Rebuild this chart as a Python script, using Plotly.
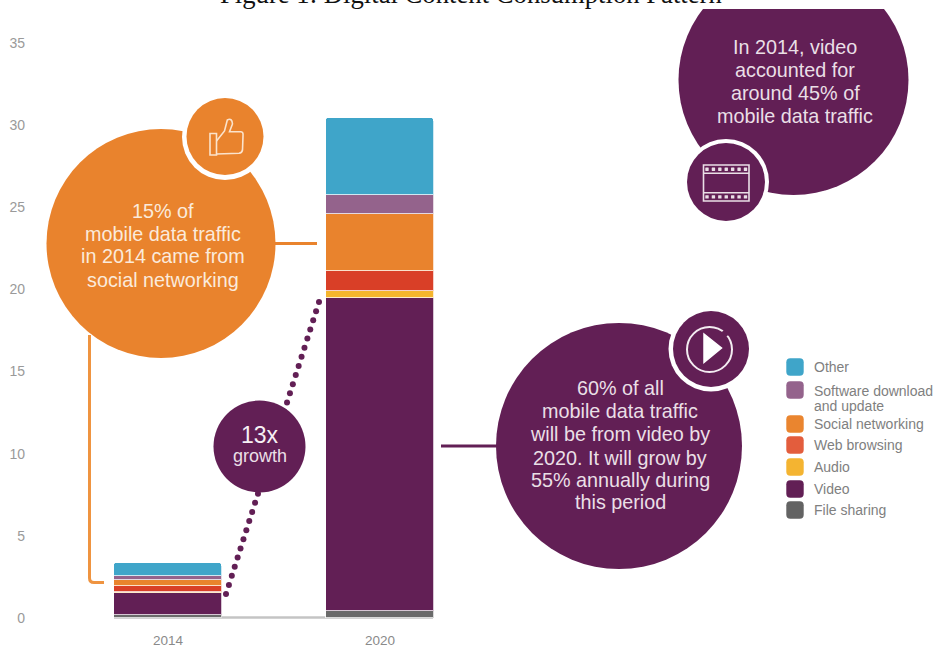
import numpy as np
import plotly.graph_objects as go

# Traffic in exabytes per month, stacked bottom to top
YEARS = ["2014", "2020"]
FILE_SHARING = [0.20, 0.40]
VIDEO = [1.32, 19.08]
AUDIO = [0.08, 0.42]
WEB_BROWSING = [0.35, 1.19]
SOCIAL = [0.36, 3.47]
SOFTWARE = [0.27, 1.19]
OTHER = [0.75, 4.71]

SERIES_NAMES = ["File sharing", "Video", "Audio", "Web browsing",
                "Social networking", "Software download<br>and update", "Other"]
SERIES_VALUES = [FILE_SHARING, VIDEO, AUDIO, WEB_BROWSING, SOCIAL, SOFTWARE, OTHER]
SERIES_COLORS = ["#6a6a6a", "#621f55", "#f5b52d", "#d93f27", "#e9832d", "#94638c", "#3fa5c9"]
LEGEND_COLORS = ["#636363", "#621f55", "#f4b431", "#e35d3d", "#ea852f", "#94638c", "#3fa5c9"]
LEGEND_ROWS = [510, 489, 467, 445, 424, 390, 367]

PURPLE = "#621f55"
ORANGE = "#e9832d"
SOFT_WHITE = "#eadfe6"

# Overlay layer: x2/y2 run in canvas pixels so callouts stay perfectly round
LEFT, RIGHT, TOP, BOTTOM = 30, 935, 9, 622
ZERO_Y, UNIT_Y = 618, 16.43
BAR_2014_X, BAR_STEP = 168, 212

fig = go.Figure()
for name, values, color in zip(SERIES_NAMES, SERIES_VALUES, SERIES_COLORS):
    fig.add_bar(x=YEARS, y=values, name=name.replace("<br>", " "), width=108 / BAR_STEP,
                marker=dict(color=color, line=dict(color="rgba(255,255,255,0.75)", width=1)))

shapes = []
annotations = []


def circle(cx, cy, r, fill="rgba(0,0,0,0)", line=None, width=0):
    shapes.append(dict(type="circle", xref="x2", yref="y2", x0=cx - r, x1=cx + r, y0=cy - r, y1=cy + r,
                       fillcolor=fill, line=dict(color=line or fill, width=width)))


def segment(x0, y0, x1, y1, color, width):
    shapes.append(dict(type="line", xref="x2", yref="y2", x0=x0, y0=y0, x1=x1, y1=y1,
                       line=dict(color=color, width=width)))


def path(d, fill="rgba(0,0,0,0)", line="rgba(0,0,0,0)", width=0):
    shapes.append(dict(type="path", xref="x2", yref="y2", path=d, fillcolor=fill,
                       line=dict(color=line, width=width)))


def label(x, y, text, size, color=SOFT_WHITE, anchor="center"):
    annotations.append(dict(xref="x2", yref="y2", x=x, y=y, text=text, showarrow=False,
                            xanchor=anchor, yanchor="middle",
                            font=dict(family="Liberation Sans", size=size, color=color)))


def text_block(x, rows, lines, size, color=SOFT_WHITE):
    for y, line in zip(rows, lines):
        label(x, y, line, size, color)


def rounded_square(cx, cy, half, r, fill):
    x0, x1, y0, y1 = cx - half, cx + half, cy - half, cy + half
    path(f"M {x0 + r} {y0} L {x1 - r} {y0} Q {x1} {y0} {x1} {y0 + r} L {x1} {y1 - r} Q {x1} {y1} {x1 - r} {y1} "
         f"L {x0 + r} {y1} Q {x0} {y1} {x0} {y1 - r} L {x0} {y0 + r} Q {x0} {y0} {x0 + r} {y0} Z", fill=fill)


# Baseline under both bars
shapes.append(dict(type="line", xref="x2", yref="y2", x0=114, x1=433, y0=617.5, y1=617.5, layer="below",
                   line=dict(color="#c4c4c4", width=2.5)))

# Dotted growth link between the two bars, passing behind the 13x badge
dot_x = np.linspace(226, 319, 33)
dot_y = np.linspace(594, 302, 33)
fig.add_scatter(x=dot_x, y=dot_y, xaxis="x2", yaxis="y2", mode="markers", showlegend=False,
                hoverinfo="skip", marker=dict(color=PURPLE, size=6))

# Leader lines
segment(275, 243.5, 317, 243.5, ORANGE, 3)
segment(441, 446, 498, 446, PURPLE, 3)
path("M 89.5 335 L 89.5 578 Q 89.5 582.5 94 582.5 L 104 582.5", line="#ef9440", width=3)

# Social networking callout with thumbs-up badge
circle(161, 243.5, 114.5, ORANGE)
circle(225, 137, 43, "#ffffff")
circle(225, 136.5, 38.5, ORANGE)
icon = "#fbe3cc"
path("M 210 133.5 L 216.5 133.5 L 216.5 155 L 210 155 Z", line=icon, width=1.6)
path("M 216.5 141 L 224.5 131 L 227.3 120 Q 232 117.5 232.5 124 L 229.5 131.7 L 241 131.7 Q 243.5 132 243 136 "
     "L 242.5 150 Q 242 153 239 153.2 L 216.5 154", line=icon, width=1.6)
text_block(163, [211, 233.5, 256, 280],
           ["15% of", "mobile data traffic", "in 2014 came from", "social networking"], 19.8, "#fbeadb")

# 2014 video callout with film-strip badge; the plot area trims its top edge
circle(793.5, 80, 115, PURPLE)
circle(726, 182, 43, "#ffffff")
circle(726, 182, 39, PURPLE)
path("M 703.5 165 L 749 165 L 749 201 L 703.5 201 Z", line=SOFT_WHITE, width=1.6)
segment(703.5, 173.3, 749, 173.3, SOFT_WHITE, 1.4)
segment(703.5, 192.7, 749, 192.7, SOFT_WHITE, 1.4)
for hole_x in np.linspace(707, 745.5, 7):
    for hole_y in (169.2, 196.9):
        rounded_square(hole_x, hole_y, 1.7, 0.4, SOFT_WHITE)
text_block(795, [47, 70, 93, 116],
           ["In 2014, video", "accounted for", "around 45% of", "mobile data traffic"], 19.8)

# 2020 video callout with play badge
circle(619, 446, 123, PURPLE)
circle(711, 349, 42.5, "#ffffff")
circle(711, 349, 38, PURPLE)
circle(709.5, 349.5, 22.5, line="#f3ecf1", width=2)
segment(723, 331, 727, 336, PURPLE, 4)
path("M 704 334 L 721.5 348 L 704 362.5 Z", fill="#ffffff", line="#ffffff", width=1.5)
text_block(620, [388, 411, 434, 457.5, 480, 502],
           ["60% of all", "mobile data traffic", "will be from video by", "2020. It will grow by",
            "55% annually during", "this period"], 19.8)

# Growth badge
circle(259.5, 446.5, 46, PURPLE)
label(259.5, 434.5, "13x", 23, "#f6f0f4")
label(259.5, 456, "growth", 18)

# Legend, listed top to bottom beside its swatches
for name, color, row in zip(SERIES_NAMES, LEGEND_COLORS, LEGEND_ROWS):
    rounded_square(795, row, 8.7, 4, color)
    lines = name.split("<br>")
    if len(lines) == 2:
        for y, line in zip((row + 1, row + 15.5), lines):
            label(811.5, y, line, 14, "#808080", anchor="left")
    else:
        label(811.5, row, name, 14, "#808080", anchor="left")

# Caption, sitting partly above the top edge of the page
annotations.append(dict(xref="paper", yref="paper", x=(471 - LEFT) / (RIGHT - LEFT), xanchor="center",
                        y=1, yanchor="bottom", yshift=-2.5, showarrow=False,
                        text="Figure 1: Digital Content Consumption Pattern",
                        font=dict(family="Liberation Serif", size=26.7, color="#111111")))

fig.update_layout(
    width=935, height=646, barmode="stack", barcornerradius=3, bargap=0, showlegend=False,
    paper_bgcolor="#ffffff", plot_bgcolor="rgba(0,0,0,0)",
    margin=dict(l=LEFT, r=935 - RIGHT, t=TOP, b=646 - BOTTOM),
    font=dict(family="Liberation Sans", color="#8a8a8a"),
    xaxis=dict(type="category", range=[(LEFT - BAR_2014_X) / BAR_STEP, (RIGHT - BAR_2014_X) / BAR_STEP],
               automargin=False, showgrid=False, zeroline=False, showline=False, ticks="outside", ticklen=6,
               tickcolor="rgba(0,0,0,0)", tickfont=dict(size=13.5, color="#8a8a8a")),
    yaxis=dict(range=[(ZERO_Y - BOTTOM) / UNIT_Y, (ZERO_Y - TOP) / UNIT_Y], tickvals=list(range(0, 40, 5)),
               automargin=False, showgrid=False, zeroline=False, showline=False, ticks="", ticklabelstandoff=4,
               tickfont=dict(size=14, color="#9a9a9a")),
    xaxis2=dict(range=[LEFT, RIGHT], overlaying="x", anchor="y2", visible=False),
    yaxis2=dict(range=[BOTTOM, TOP], overlaying="y", anchor="x2", visible=False),
    shapes=shapes, annotations=annotations,
)

fig.write_html("out.html", config=dict(displayModeBar=False))
